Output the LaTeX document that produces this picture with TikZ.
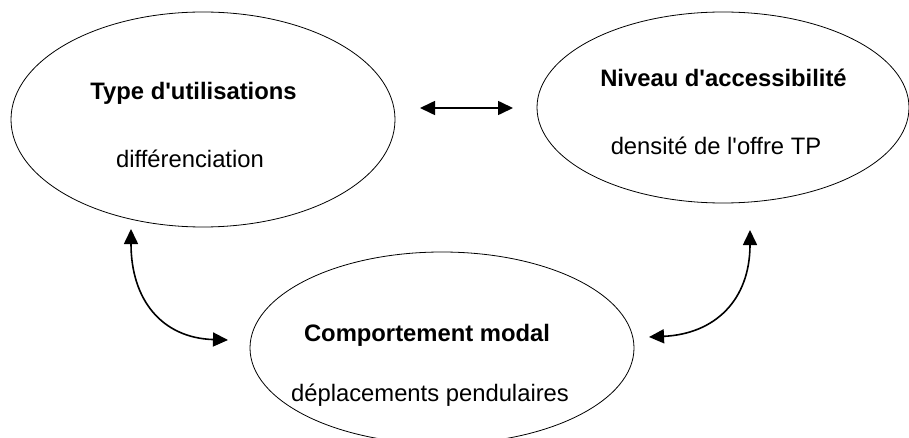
\documentclass[tikz,border=0pt]{standalone}
\usepackage{fontspec}
\setmainfont{Liberation Sans}
\usetikzlibrary{shapes.geometric, arrows.meta}
\tikzset{
    bubble/.style={draw, ellipse, line width=0.8pt, inner sep=0pt, outer sep=0pt},
    headline/.style={anchor=base, font=\fontsize{23.8}{29}\selectfont\bfseries},
    subline/.style={anchor=base, font=\fontsize{23.8}{29}\selectfont},
    link/.style={line width=1.6pt,
        {Triangle[length=15pt,width=14pt]}-{Triangle[length=15pt,width=14pt]}}
}

\begin{document}
\begin{tikzpicture}[x=1pt, y=-1pt]
        \useasboundingbox (0, 0) rectangle (909, 438);
        \clip (0, 0) rectangle (909, 438);
        % ellipses
        \node[bubble, minimum width=384pt, minimum height=215pt] (usage) at (203, 119.5) {};
        \node[bubble, minimum width=372pt, minimum height=191pt] (access) at (723, 107.5) {};
        \node[bubble, minimum width=384pt, minimum height=192pt] (modal) at (442, 348) {};
        % texts
        \node[headline] (usageT) at (193.5, 100) {Type d\textquotesingle utilisations};
        \node[subline] (usageS) at (190, 168) {différenciation};
        \node[headline] (accessT) at (723.5, 87) {Niveau d\textquotesingle accessibilité};
        \node[subline] (accessS) at (716, 155) {densité de l\textquotesingle offre TP};
        \node[headline] (modalT) at (427, 341) {Comportement modal};
        \node[subline] (modalS) at (430, 401) {déplacements pendulaires};
        % arrow ends
        \coordinate (uaL) at (420, 108);
        \coordinate (uaR) at (513, 108);
        \coordinate (umU) at (131, 229);
        \coordinate (umM) at (228, 340);
        \coordinate (amA) at (750, 230);
        \coordinate (amM) at (649, 337);
        \draw[link] (uaL) -- (uaR);
        \draw[link] (umU) .. controls (131, 300) and (162, 338) .. (umM);
        \draw[link] (amA) .. controls (750, 300) and (715, 334) .. (amM);
    \end{tikzpicture}
\end{document}
